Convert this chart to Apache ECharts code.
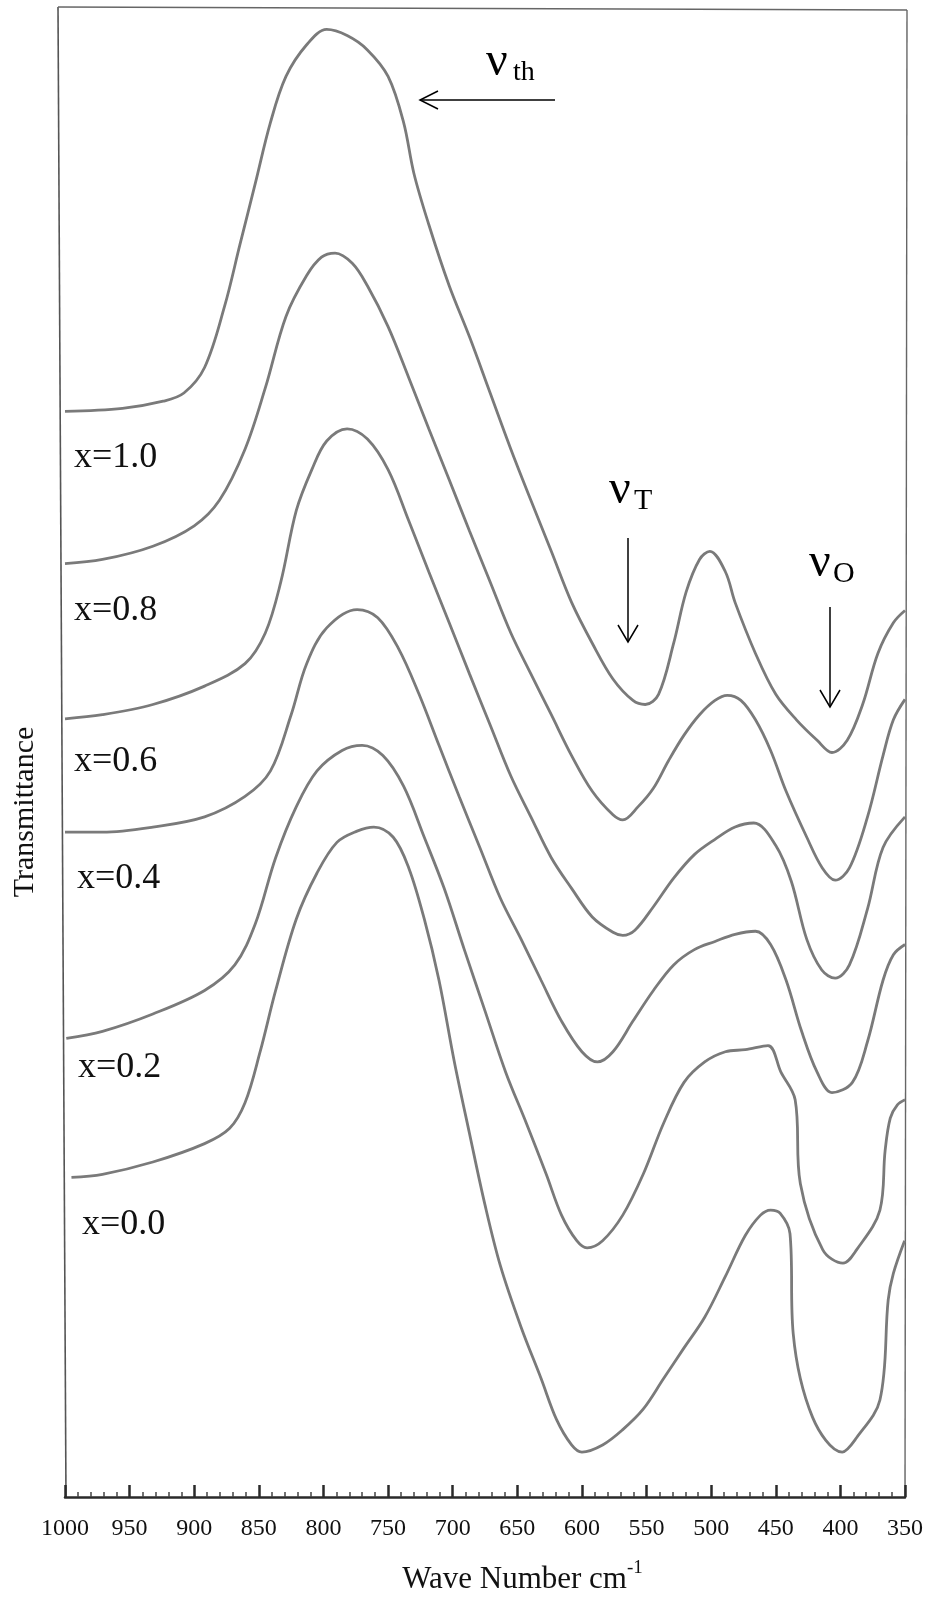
<!DOCTYPE html>
<html>
<head>
<meta charset="utf-8">
<script src="https://cdn.jsdelivr.net/npm/echarts@6/dist/echarts.min.js"></script>
<style>
  html, body { margin: 0; padding: 0; background: #ffffff; }
  #chart { width: 929px; height: 1601px; }
</style>
</head>
<body>
<div id="chart"></div>
<script>
// IR transmittance spectra, [wave number (cm^-1), transmittance (arb. units, stacked)]
const compositions = ['x=1.0', 'x=0.8', 'x=0.6', 'x=0.4', 'x=0.2', 'x=0.0'];

const spectrumX10 = [
  [1000, 1063], [955.5, 1066], [924, 1073], [908, 1081], [892, 1106], [876.5, 1166],
  [864.7, 1226], [852.8, 1286], [841, 1346], [829, 1391], [813, 1422], [797.5, 1437],
  [781.7, 1431], [766, 1417], [750, 1391], [738, 1346], [730, 1296], [718.5, 1246],
  [702.7, 1186], [687, 1136], [671, 1081], [655, 1026], [639.5, 976], [623.7, 926],
  [608, 876], [592, 836], [576, 801], [560.5, 780], [551, 776], [540.7, 786],
  [529, 836], [519.4, 886], [509, 918], [501, 926], [489, 906], [481.5, 876],
  [465.7, 826], [450, 786], [434, 761], [418, 741], [406.5, 729], [394.7, 741],
  [382.8, 776], [371, 826], [359, 856], [350, 868]
];

const spectrumX08 = [
  [1000, 914], [971, 918], [932, 931], [900, 951], [880.5, 976], [860.7, 1026],
  [845, 1086], [829, 1156], [813, 1196], [801.5, 1214], [791, 1218], [777.7, 1208],
  [766, 1186], [750, 1146], [734, 1096], [718.5, 1046], [702.7, 996], [687, 946],
  [671, 896], [655, 846], [639.5, 806], [623.7, 766], [608, 726], [592, 691],
  [576, 668], [568.4, 663], [556.5, 676], [544.7, 694], [533, 721], [521, 746],
  [509, 766], [497, 780], [487.5, 785], [477, 780], [465.7, 761], [454, 731],
  [442, 691], [426, 646], [414, 616], [404, 604], [393, 616], [379, 666],
  [367, 726], [359, 761], [350, 781]
];

const spectrumX06 = [
  [1000, 762], [971, 766], [932, 776], [892, 794], [860.7, 816], [845, 846],
  [833, 896], [821, 966], [809, 1006], [797.5, 1034], [781.7, 1046], [766, 1036],
  [750, 1006], [734, 956], [718.5, 906], [702.7, 856], [687, 806], [671, 756],
  [655, 706], [639.5, 666], [623.7, 626], [608, 596], [592, 568], [576, 553],
  [568.4, 550], [559, 555], [544.7, 578], [529, 606], [513, 629], [497, 644],
  [481.5, 656], [467, 660], [450, 638], [438, 603], [426, 546], [414.4, 516],
  [404, 508], [393, 521], [379, 576], [367, 636], [350, 666]
];

const spectrumX04 = [
  [1000, 651], [971, 651], [932, 656], [892, 666], [860.7, 686], [841, 711],
  [825, 766], [813, 816], [797.5, 851], [774, 869], [758, 861], [742, 831],
  [726, 786], [710.6, 736], [695, 686], [679, 636], [663, 586], [647, 546],
  [631.6, 506], [615.8, 466], [600, 436], [588, 426], [576, 436], [560.5, 466],
  [544.7, 496], [529, 521], [513, 536], [497, 544], [481.5, 551], [465.7, 554],
  [454, 541], [442, 506], [430, 456], [418, 416], [406.5, 396], [390.7, 406],
  [379, 446], [367, 506], [359, 531], [350, 541]
];

const spectrumX02 = [
  [999, 449], [971, 456], [932, 473], [892, 496], [868.6, 521], [852.8, 561],
  [837, 626], [821, 676], [805, 711], [785.6, 731], [770, 736], [754, 726],
  [738, 696], [722, 646], [706.6, 596], [691, 536], [675, 476], [659, 416],
  [643, 366], [627.6, 316], [615.8, 276], [604, 251], [596, 244], [584, 251],
  [568.4, 276], [552.6, 316], [536.8, 366], [521, 406], [505, 426], [489, 436],
  [473.6, 438], [456, 442], [446, 416], [435, 389], [431, 307], [413.6, 242],
  [398, 229], [387.5, 242], [369.4, 281], [365.4, 339], [361.4, 371], [355.9, 384], [350, 389]
];

const spectrumX00 = [
  [995, 313], [971, 316], [932, 328], [892, 346], [872.6, 361], [860.7, 386],
  [849, 436], [837, 496], [821, 566], [805, 611], [789.6, 641], [774, 652],
  [761, 656], [746, 646], [734, 616], [722, 566], [710.6, 506], [698.7, 426],
  [687, 356], [675, 286], [663, 226], [647, 166], [631.6, 116], [619.7, 76],
  [608, 51], [600, 44], [584, 51], [568.4, 66], [552.6, 86], [536.8, 116],
  [521, 146], [505, 176], [489, 216], [473.6, 256], [461.8, 276], [454, 281],
  [446.7, 278], [439, 258], [436.5, 160], [421.5, 78], [398.6, 44], [387.5, 58],
  [369.4, 95], [363, 193], [359, 219], [350.3, 251]
];

const spectra = [spectrumX10, spectrumX08, spectrumX06, spectrumX04, spectrumX02, spectrumX00];

const serif = 'Liberation Serif';
const ink = '#111111';

const chart = echarts.init(document.getElementById('chart'), null, { renderer: 'canvas' });

// composition labels beneath the left end of each trace
const labelTops = [460, 613, 764, 881, 1070, 1227];
const labelLefts = [74, 74, 74, 77, 78, 82];
const compositionLabels = compositions.map((c, i) => ({
  type: 'text', left: labelLefts[i], top: labelTops[i] - 20,
  style: { text: c, font: '36px "' + serif + '"', fill: ink }
}));

// band markers with arrows
function vArrow(x, y1, y2) {
  return [
    { type: 'line', shape: { x1: x, y1: y1, x2: x, y2: y2 }, style: { stroke: '#000', lineWidth: 1.5 } },
    { type: 'polyline', shape: { points: [[x - 10, y2 - 17], [x, y2], [x + 10, y2 - 17]] }, style: { stroke: '#000', lineWidth: 1.5, fill: null } }
  ];
}
function textEl(x, y, txt, size) {
  return { type: 'text', x: x, y: y, style: { text: txt, font: size + 'px "' + serif + '"', fill: '#000', textVerticalAlign: 'middle' } };
}

const annotations = [
  // nu_th
  textEl(486, 62, 'ν', 48), textEl(513, 73, 'th', 28),
  { type: 'line', shape: { x1: 555, y1: 100, x2: 420, y2: 100 }, style: { stroke: '#000', lineWidth: 1.5 } },
  { type: 'polyline', shape: { points: [[438, 91], [420, 100], [438, 109]] }, style: { stroke: '#000', lineWidth: 1.5, fill: null } },
  // nu_T
  textEl(609, 490, 'ν', 48), textEl(634, 501, 'T', 30),
  ...vArrow(628, 538, 642),
  // nu_O
  textEl(809, 563, 'ν', 48), textEl(833, 574, 'O', 30),
  ...vArrow(830, 607, 707)
];

// hand-ruled frame around the plotting area
const frame = [
  { type: 'line', shape: { x1: 58, y1: 7, x2: 66, y2: 1497 }, style: { stroke: '#555', lineWidth: 1.6 } },
  { type: 'line', shape: { x1: 58, y1: 7, x2: 907, y2: 10 }, style: { stroke: '#666', lineWidth: 1.6 } },
  { type: 'line', shape: { x1: 907, y1: 10, x2: 905, y2: 1497 }, style: { stroke: '#666', lineWidth: 1.4 } }
];

const yTitle = {
  type: 'text', x: 25, y: 812, rotation: Math.PI / 2,
  style: { text: 'Transmittance', font: '30px "' + serif + '"', fill: ink, textAlign: 'center', textVerticalAlign: 'middle' }
};

chart.setOption({
  animation: false,
  backgroundColor: '#ffffff',
  grid: { left: 65, right: 24, top: 7, bottom: 104 },
  xAxis: {
    type: 'value', min: 350, max: 1000, interval: 50, inverse: true,
    axisLine: { show: true, lineStyle: { color: '#2a2a2a', width: 2.5 } },
    axisTick: { show: true, inside: true, length: 12, lineStyle: { color: '#2a2a2a', width: 2.5 } },
    minorTick: { show: true, splitNumber: 5, length: 5, lineStyle: { color: '#444', width: 1.5 } },
    splitLine: { show: false },
    axisLabel: { fontFamily: serif, fontSize: 24, color: ink, margin: 20, formatter: v => String(v) },
    name: '{a|Wave Number cm}{s|-1}',
    nameLocation: 'middle', nameGap: 62,
    nameTextStyle: {
      padding: [0, 0, 0, 75],
      rich: {
        a: { fontFamily: serif, fontSize: 31, color: ink, lineHeight: 36, verticalAlign: 'bottom' },
        s: { fontFamily: serif, fontSize: 19, color: ink, lineHeight: 18, verticalAlign: 'top' }
      }
    }
  },
  yAxis: {
    type: 'value', min: 0, max: 1459,
    axisLine: { show: false }, axisTick: { show: false }, axisLabel: { show: false },
    splitLine: { show: false }
  },
  series: spectra.map((data, i) => ({
    name: compositions[i],
    type: 'line',
    data: data,
    smooth: 0.35,
    symbol: 'none',
    silent: true,
    lineStyle: { color: '#7a7a7a', width: 2.8 }
  })),
  graphic: [...frame, yTitle, ...compositionLabels, ...annotations]
});
</script>
</body>
</html>
